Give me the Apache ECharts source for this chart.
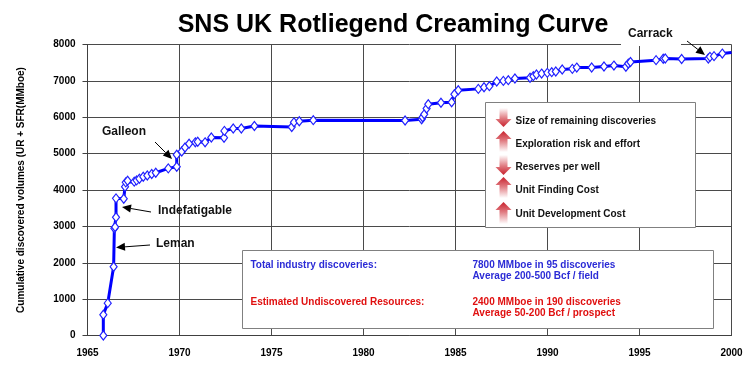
<!DOCTYPE html>
<html><head><meta charset="utf-8">
<script src="https://cdn.jsdelivr.net/npm/echarts@6/dist/echarts.min.js"></script>
<style>html,body{margin:0;padding:0;background:#fff}#c{width:750px;height:365px}</style>
</head><body><div id="c"></div>
<script>
// Discovery year (decimal) and cumulative discovered volume (MMboe)
var years = [1965.86,1965.86,1966.10,1966.42,1966.46,1966.50,1966.55,1966.55,1966.97,1967.04,1967.08,1967.18,1967.54,1967.67,1967.82,1968.03,1968.25,1968.49,1968.71,1969.39,1969.85,1969.85,1970.12,1970.30,1970.52,1970.86,1970.99,1971.39,1971.73,1972.42,1972.44,1972.92,1973.36,1974.07,1976.10,1976.22,1976.51,1977.27,1982.26,1983.16,1983.21,1983.30,1983.43,1983.52,1984.21,1984.79,1984.94,1985.15,1986.24,1986.55,1986.84,1987.24,1987.60,1987.87,1988.23,1989.05,1989.23,1989.40,1989.68,1989.99,1990.23,1990.45,1990.80,1991.35,1991.59,1992.40,1993.07,1993.61,1994.26,1994.39,1994.51,1995.90,1996.29,1996.40,1997.29,1998.74,1998.83,1999.05,1999.50,2000.00];
var volumes = [0,570,890,1890,2950,2980,3250,3770,3760,4090,4210,4255,4230,4265,4310,4365,4400,4440,4475,4595,4640,4970,5060,5170,5270,5310,5325,5310,5445,5435,5625,5690,5690,5760,5730,5860,5890,5920,5910,5945,6000,6080,6240,6360,6400,6410,6630,6740,6780,6825,6855,6985,7000,7020,7065,7085,7130,7175,7200,7220,7240,7260,7315,7330,7365,7370,7395,7420,7390,7475,7520,7570,7610,7615,7600,7615,7660,7680,7750,7780];
var xTicks = {min: 1965, max: 2000, step: 5};
var yTicks = {min: 0, max: 8000, step: 1000};
var titleText = 'SNS UK Rotliegend Creaming Curve';
var yAxisTitle = 'Cumulative discovered volumes (UR + SFR(MMboe)';
var fieldLabels = ['Galleon', 'Indefatigable', 'Leman', 'Carrack'];
var trendItems = ['Size of remaining discoveries', 'Exploration risk and effort', 'Reserves per well', 'Unit Finding Cost', 'Unit Development Cost'];
var trendDirs = ['down', 'up', 'down', 'up', 'up'];
var summaryBlue = ['Total industry discoveries:', '7800 MMboe in 95 discoveries', 'Average 200-500 Bcf / field'];
var summaryRed = ['Estimated Undiscovered Resources:', '2400 MMboe in 190 discoveries', 'Average 50-200 Bcf / prospect'];

var FONT = '"Liberation Sans", Arial, sans-serif';
var chart = echarts.init(document.getElementById('c'));
var seriesData = years.map(function (y, i) { return [y, volumes[i]]; });
var lastIdx = seriesData.length - 1;

function arrowLine(x1, y1, x2, y2) {
  var dx = x2 - x1, dy = y2 - y1, len = Math.sqrt(dx * dx + dy * dy);
  var ux = dx / len, uy = dy / len, hl = 9, hw = 4;
  var bx = x2 - ux * hl, by = y2 - uy * hl;
  return [
    {type: 'line', shape: {x1: x1, y1: y1, x2: bx, y2: by}, style: {stroke: '#000', lineWidth: 1}, z: 100},
    {type: 'polygon', shape: {points: [[x2, y2], [bx - uy * hw, by + ux * hw], [bx + uy * hw, by - ux * hw]]}, style: {fill: '#000'}, z: 100}
  ];
}
function blockArrow(cx, y0, y1, dir) {
  var pts, grad;
  if (dir === 'down') {
    pts = [[cx - 4, y0], [cx + 4, y0], [cx + 4, y1 - 8], [cx + 8, y1 - 8], [cx, y1], [cx - 8, y1 - 8], [cx - 4, y1 - 8]];
    grad = new echarts.graphic.LinearGradient(0, 0, 0, 1, [{offset: 0, color: 'rgba(255,255,255,1)'}, {offset: 0.55, color: '#e07a80'}, {offset: 1, color: '#c8202c'}]);
  } else {
    pts = [[cx, y0], [cx + 8, y0 + 8], [cx + 4, y0 + 8], [cx + 4, y1], [cx - 4, y1], [cx - 4, y0 + 8], [cx - 8, y0 + 8]];
    grad = new echarts.graphic.LinearGradient(0, 0, 0, 1, [{offset: 0, color: '#c8202c'}, {offset: 0.45, color: '#e07a80'}, {offset: 1, color: 'rgba(255,255,255,1)'}]);
  }
  return {type: 'polygon', shape: {points: pts}, style: {fill: grad}, z: 110};
}
function txt(x, y, s, opt) {
  opt = opt || {};
  return {type: 'text', x: x, y: y, z: opt.z || 110, style: {text: s, fill: opt.color || '#000', font: (opt.weight || 'bold') + ' ' + (opt.size || 10) + 'px ' + FONT, textAlign: opt.align || 'left', textVerticalAlign: 'middle', letterSpacing: opt.ls || 0}};
}

var g = [];
// Carrack label background (hides top gridline)
g.push({type: 'rect', shape: {x: 621, y: 24, width: 60, height: 22}, style: {fill: '#fff'}, z: 90});
g.push(txt(102, 132, fieldLabels[0], {size: 12, color: '#111', ls: 0.3}));
g = g.concat(arrowLine(155, 142, 172, 159));
g.push(txt(158, 211, fieldLabels[1], {size: 12, color: '#111', ls: 0.6}));
g = g.concat(arrowLine(151, 212, 122, 207));
g.push(txt(156, 244, fieldLabels[2], {size: 12, color: '#111', ls: 0.6}));
g = g.concat(arrowLine(150, 245, 116, 247.5));
g.push(txt(628, 34, fieldLabels[3], {size: 12, color: '#111'}));
g = g.concat(arrowLine(687, 41, 705, 55));

// Trend box
g.push({type: 'rect', shape: {x: 485.5, y: 102.5, width: 210, height: 125}, style: {fill: '#fff', stroke: '#808080', lineWidth: 1}, z: 105});
var rowY = [121, 144, 167, 190, 214];
var arrowSpan = [[108, 127], [131, 152], [155, 175], [177, 198], [202, 224]];
trendItems.forEach(function (s, i) {
  g.push(blockArrow(503.5, arrowSpan[i][0], arrowSpan[i][1], trendDirs[i]));
  g.push(txt(515.5, rowY[i], s, {size: 10, color: '#111'}));
});

// Summary box
g.push({type: 'rect', shape: {x: 242.5, y: 250.5, width: 471, height: 78}, style: {fill: '#fff', stroke: '#808080', lineWidth: 1}, z: 105});
var blue = '#2b2bd6', red = '#e01010';
g.push(txt(250.5, 265, summaryBlue[0], {color: blue, ls: 0.1}));
g.push(txt(472.5, 265, summaryBlue[1], {color: blue, ls: 0.1}));
g.push(txt(472.5, 276.5, summaryBlue[2], {color: blue, ls: 0.1}));
g.push(txt(250.5, 302, summaryRed[0], {color: red, ls: 0.1}));
g.push(txt(472.5, 302, summaryRed[1], {color: red, ls: 0.1}));
g.push(txt(472.5, 313.5, summaryRed[2], {color: red, ls: 0.1}));

chart.setOption({
  animation: false,
  backgroundColor: '#fff',
  title: {text: titleText, left: 388, top: 8, textAlign: 'center', textStyle: {fontFamily: FONT, fontWeight: 'bold', fontSize: 25, color: '#000'}},
  grid: {left: 87.5, right: 18.5, top: 44.5, bottom: 29.5, containLabel: false},
  xAxis: {
    type: 'value', min: xTicks.min, max: xTicks.max, interval: xTicks.step,
    axisLine: {show: true, lineStyle: {color: '#404040', width: 1}},
    axisTick: {show: false},
    axisLabel: {margin: 13, formatter: function (v) { return String(v); }, fontFamily: FONT, fontWeight: 'bold', fontSize: 10, color: '#000'},
    splitLine: {show: true, lineStyle: {color: '#4a4a4a', width: 1}}
  },
  yAxis: {
    type: 'value', min: yTicks.min, max: yTicks.max, interval: yTicks.step,
    name: yAxisTitle, nameLocation: 'middle', nameGap: 61, nameRotate: 90,
    nameTextStyle: {fontFamily: FONT, fontWeight: 'bold', fontSize: 10, color: '#000'},
    axisLine: {show: true, lineStyle: {color: '#404040', width: 1}},
    axisTick: {show: true, inside: false, length: 5, lineStyle: {color: '#404040'}},
    axisLabel: {margin: 12, formatter: function (v) { return String(v); }, fontFamily: FONT, fontWeight: 'bold', fontSize: 10, color: '#000'},
    splitLine: {show: true, lineStyle: {color: '#4a4a4a', width: 1}}
  },
  series: [{
    type: 'line', data: seriesData, clip: true,
    symbol: function (v, p) { return p.dataIndex === lastIdx ? 'none' : 'diamond'; },
    symbolSize: [7, 9], showAllSymbol: true,
    lineStyle: {color: '#0000ff', width: 3},
    itemStyle: {color: '#ffffff', borderColor: '#2020ff', borderWidth: 1.2},
    z: 20
  }],
  graphic: g
});
</script></body></html>
